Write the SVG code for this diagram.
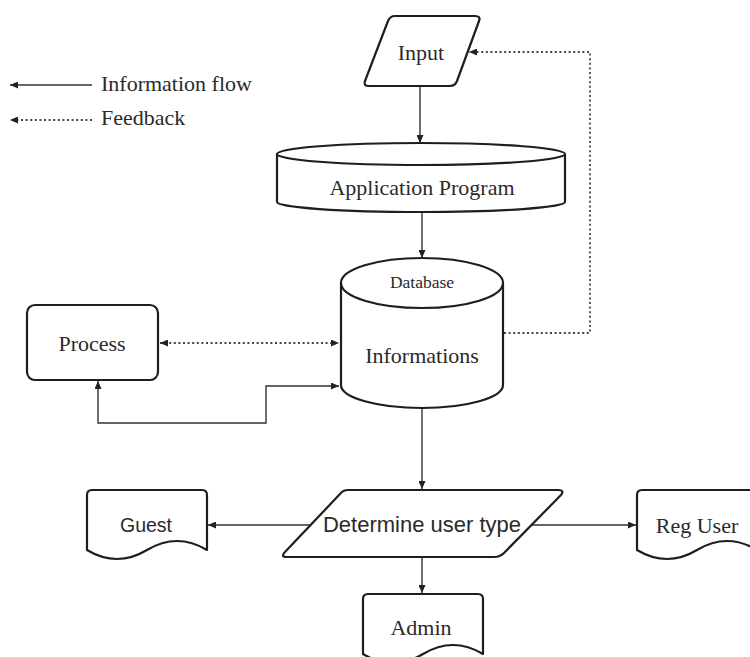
<svg xmlns="http://www.w3.org/2000/svg" width="750" height="657" viewBox="0 0 750 657">
  <style>
    .shape { fill: #ffffff; stroke: #1e1e1e; stroke-width: 2.2; stroke-linejoin: round; }
    .flow { fill: none; stroke: #333333; stroke-width: 1.4; }
    .fb { fill: none; stroke: #444444; stroke-width: 1.8; stroke-dasharray: 2 2.6; }
    .serif { font-family: "Liberation Serif", "Times New Roman", serif; fill: #2a2a2a; text-anchor: middle; }
    .left { text-anchor: start; }
    .sans { font-family: "Liberation Sans", Arial, sans-serif; fill: #2a2a2a; text-anchor: middle; }
  </style>
  <defs>
    <marker id="arrow" viewBox="0 0 8 7" refX="8" refY="3.5" markerWidth="8" markerHeight="7" markerUnits="userSpaceOnUse" orient="auto-start-reverse">
      <path d="M0,0 L8,3.5 L0,7 Z" fill="#222222"/>
    </marker>
  </defs>

  <rect width="750" height="657" fill="#ffffff"/>

  <!-- legend -->
  <g id="legend">
    <line class="flow" x1="92" y1="85" x2="10" y2="85" stroke-width="1.8" marker-end="url(#arrow)"/>
    <text class="serif left" x="101" y="91" font-size="22">Information flow</text>
    <line class="fb" x1="92" y1="120" x2="10" y2="120" marker-end="url(#arrow)"/>
    <text class="serif left" x="101" y="125" font-size="22">Feedback</text>
  </g>

  <!-- connectors -->
  <g id="connectors">
    <line class="flow" x1="420" y1="87" x2="420" y2="143" marker-end="url(#arrow)"/>
    <line class="flow" x1="422" y1="213" x2="422" y2="258" marker-end="url(#arrow)"/>
    <line class="flow" x1="422" y1="409" x2="422" y2="489" marker-end="url(#arrow)"/>
    <line class="flow" x1="422" y1="558" x2="422" y2="593" marker-end="url(#arrow)"/>
    <line class="flow" x1="311" y1="525" x2="208" y2="525" marker-end="url(#arrow)"/>
    <line class="flow" x1="530" y1="525" x2="636" y2="525" marker-end="url(#arrow)"/>
    <path class="fb" d="M504,333 H590 V52 H469" marker-end="url(#arrow)"/>
    <line class="fb" x1="160" y1="343" x2="339" y2="343" marker-start="url(#arrow)" marker-end="url(#arrow)"/>
    <path class="flow" d="M98,381 V423 H266 V386 H339" marker-start="url(#arrow)" marker-end="url(#arrow)"/>
  </g>

  <!-- input -->
  <g id="input">
    <path class="shape" d="M395,16 L475,16 Q481,16 479,21 L457,81 Q455,86 450,86 L369,86 Q363,86 365,81 L388,21 Q390,16 395,16 Z"/>
    <text class="serif" x="421" y="60" font-size="22">Input</text>
  </g>

  <!-- application program -->
  <g id="application-program">
    <path class="shape" d="M277,154 L277,202 A144,10 0 0 0 565,202 L565,154"/>
    <ellipse class="shape" cx="421" cy="154" rx="144" ry="11"/>
    <text class="serif" x="422" y="195" font-size="22">Application Program</text>
  </g>

  <!-- database -->
  <g id="database">
    <path class="shape" d="M341,283 L341,385 A81,23 0 0 0 503,385 L503,283"/>
    <ellipse class="shape" cx="422" cy="283" rx="81" ry="25"/>
    <text class="serif" x="422" y="288" font-size="17.5">Database</text>
    <text class="serif" x="422" y="363" font-size="22">Informations</text>
  </g>

  <!-- process -->
  <g id="process">
    <rect class="shape" x="27" y="305" width="131" height="75" rx="8"/>
    <text class="serif" x="92" y="351" font-size="22">Process</text>
  </g>

  <!-- determine user type -->
  <g id="determine-user-type">
    <path class="shape" d="M348,490 L558,490 Q565,490 561,495 L504,553 Q500,557 494,557 L287,557 Q280,557 285,552 L340,494 Q343,490 348,490 Z"/>
    <text class="sans" x="422" y="532" font-size="22">Determine user type</text>
  </g>

  <!-- guest -->
  <g id="guest">
    <path class="shape" d="M92,490 L202,490 Q207,490 207,495 L207,550 Q177,532 147,550 Q117,568 87,550 L87,495 Q87,490 92,490 Z"/>
    <text class="sans" x="146" y="532" font-size="19.5">Guest</text>
  </g>

  <!-- registered user -->
  <g id="reg-user">
    <path class="shape" d="M642,490 L752,490 Q757,490 757,495 L757,550 Q727,532 697,550 Q667,568 637,550 L637,495 Q637,490 642,490 Z"/>
    <text class="serif" x="697" y="533" font-size="22">Reg User</text>
  </g>

  <!-- admin -->
  <g id="admin">
    <path class="shape" d="M368,594 L478,594 Q483,594 483,599 L483,654 Q453,636 423,654 Q393,672 363,654 L363,599 Q363,594 368,594 Z"/>
    <text class="serif" x="421" y="635" font-size="22">Admin</text>
  </g>
</svg>
